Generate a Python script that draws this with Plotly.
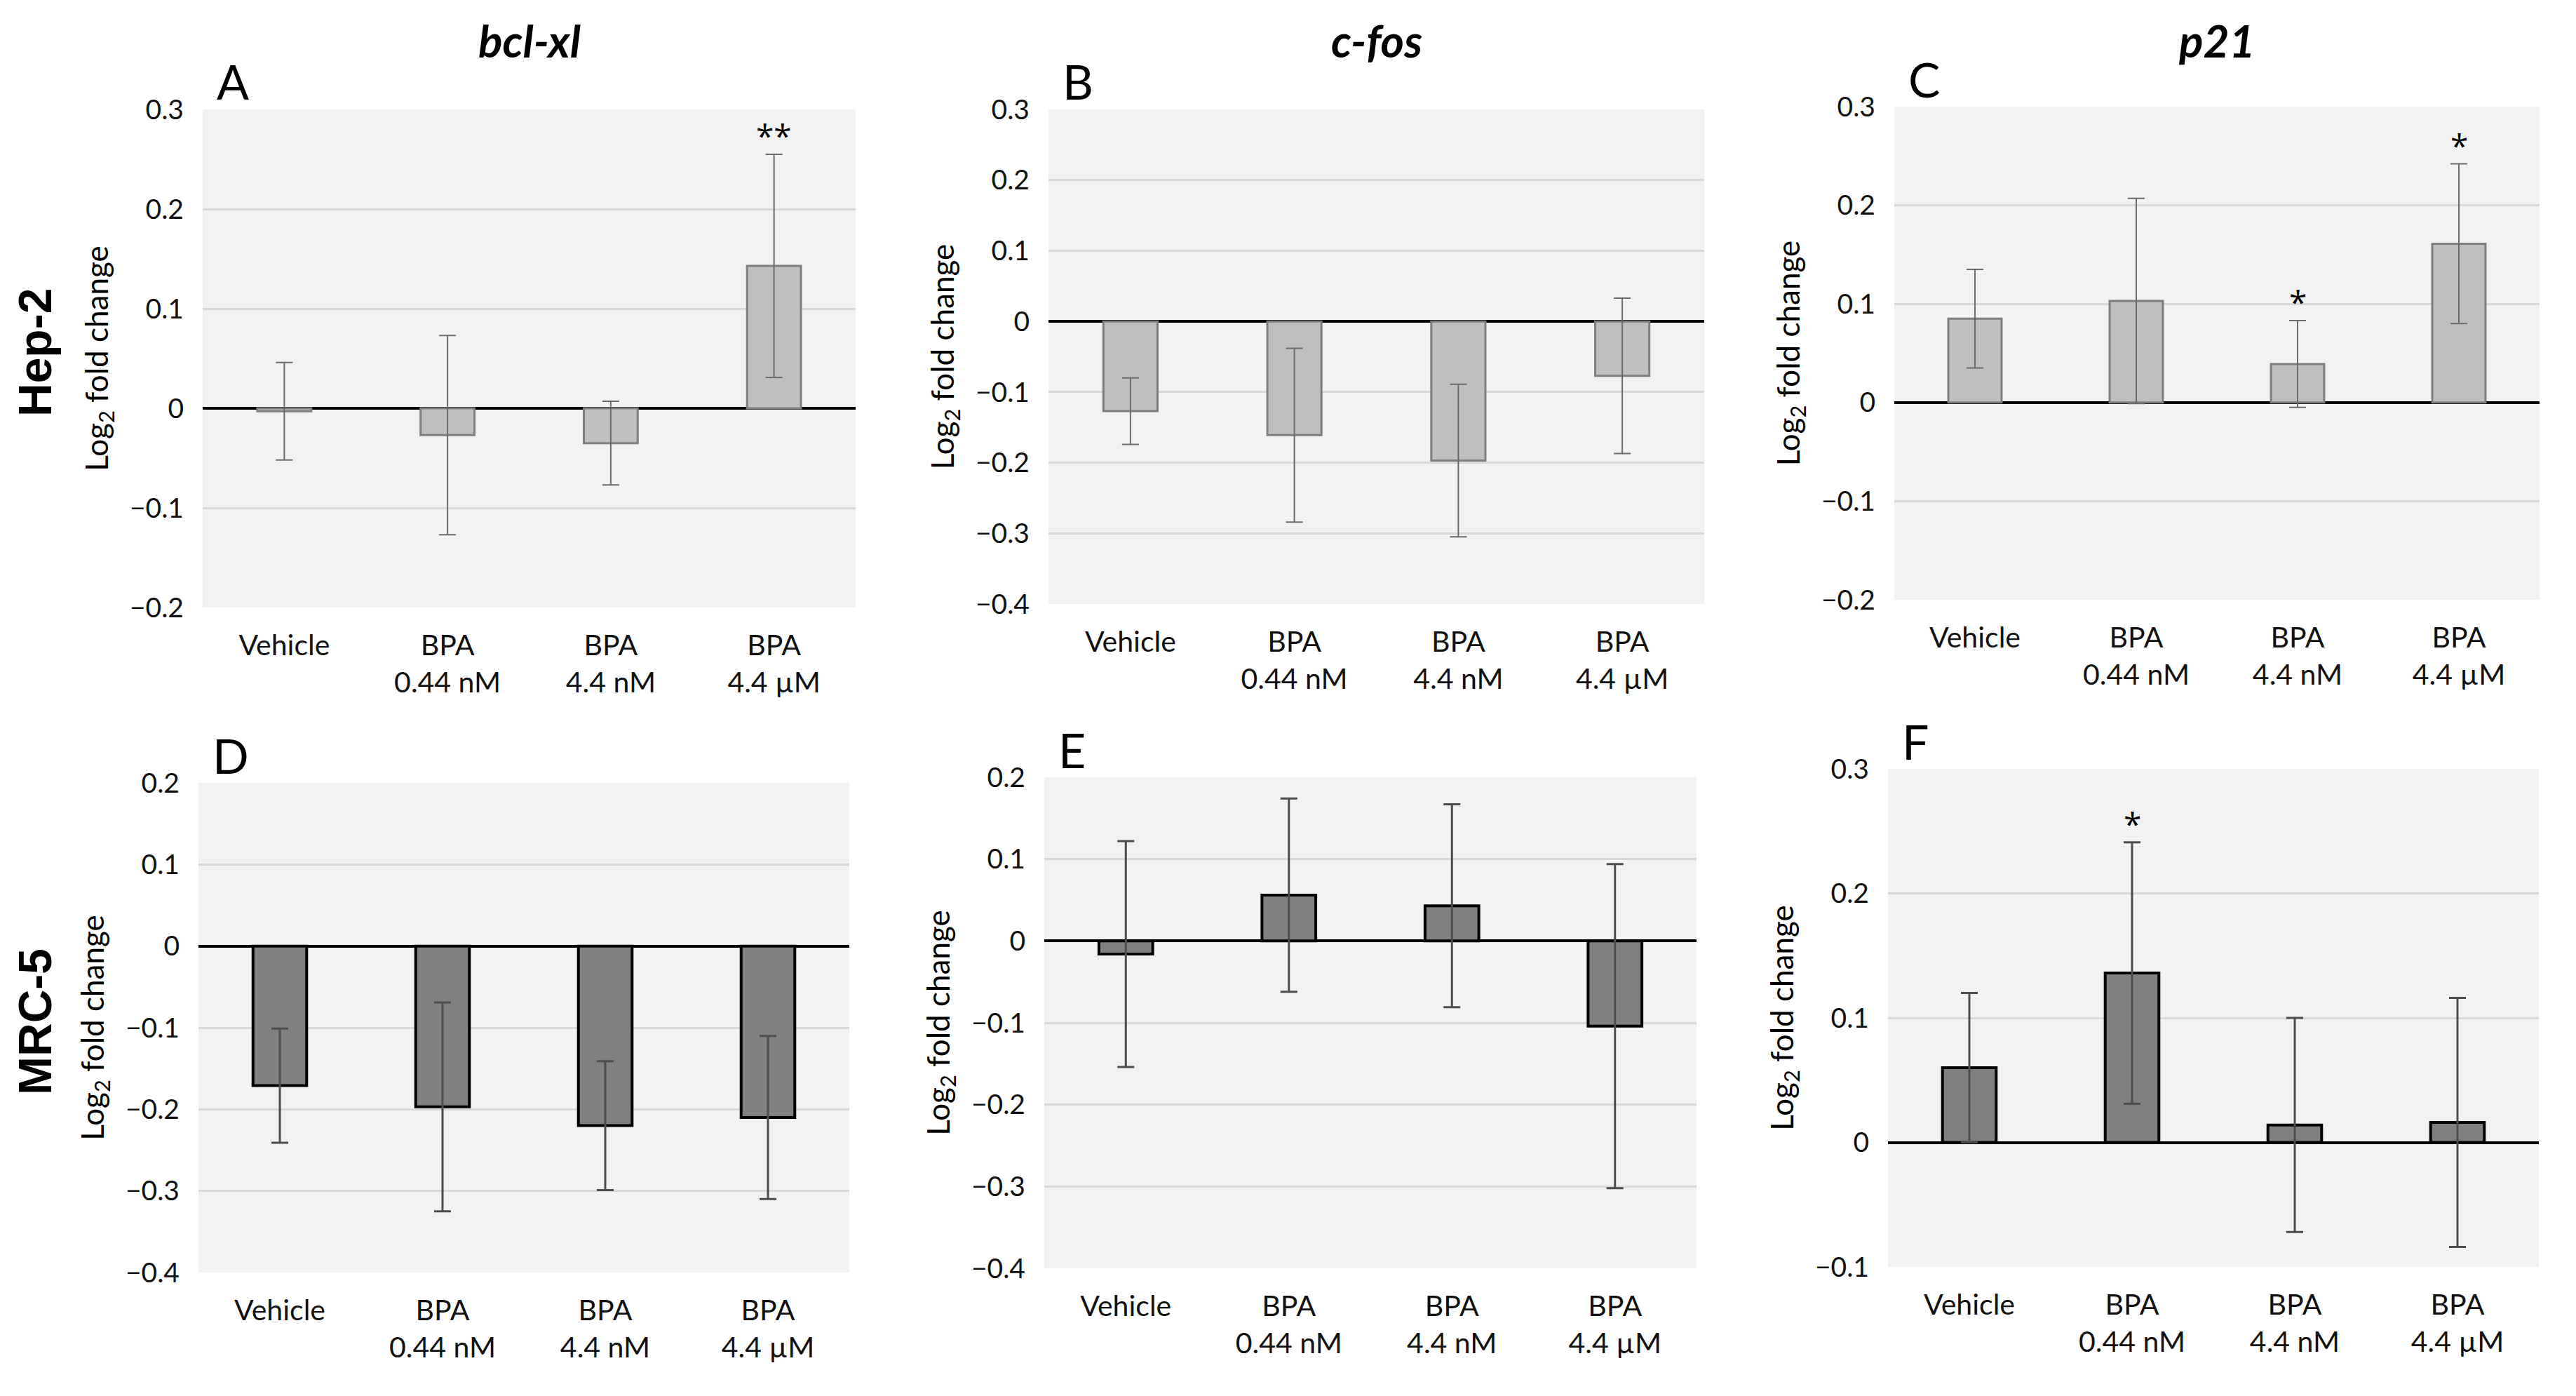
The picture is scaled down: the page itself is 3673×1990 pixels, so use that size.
import plotly.graph_objects as go

# ---------------- data ----------------
categories = ["Vehicle", "BPA<br>0.44 nM", "BPA<br>4.4 nM", "BPA<br>4.4 µM"]

hep2_bclxl = [-0.003, -0.027, -0.035, 0.143]
hep2_bclxl_err = [0.049, 0.100, 0.042, 0.112]
hep2_bclxl_sig = ["", "", "", "**"]

hep2_cfos = [-0.127, -0.161, -0.197, -0.077]
hep2_cfos_err = [0.047, 0.123, 0.108, 0.110]
hep2_cfos_sig = ["", "", "", ""]

hep2_p21 = [0.085, 0.103, 0.039, 0.161]
hep2_p21_err = [0.050, 0.104, 0.044, 0.081]
hep2_p21_sig = ["", "", "*", "*"]

mrc5_bclxl = [-0.171, -0.197, -0.220, -0.210]
mrc5_bclxl_err = [0.070, 0.128, 0.079, 0.100]
mrc5_bclxl_sig = ["", "", "", ""]

mrc5_cfos = [-0.016, 0.056, 0.043, -0.104]
mrc5_cfos_err = [0.138, 0.118, 0.124, 0.198]
mrc5_cfos_sig = ["", "", "", ""]

mrc5_p21 = [0.060, 0.136, 0.014, 0.016]
mrc5_p21_err = [0.060, 0.105, 0.086, 0.100]
mrc5_p21_sig = ["", "*", "", ""]

gene_titles = ["bcl-xl", "c-fos", "p21"]
row_labels = ["Hep-2", "MRC-5"]
panel_letters = ["A", "B", "C", "D", "E", "F"]
y_ranges = [[-0.2, 0.3], [-0.4, 0.3], [-0.2, 0.3],
            [-0.4, 0.2], [-0.4, 0.2], [-0.1, 0.3]]
y_title = "Log<sub>2</sub> fold change"

# ---------------- layout geometry ----------------
W, H = 3673, 1990
# pixel boxes of the six plot areas (left, right, top, bottom)
boxes = [
    (289, 1220, 156, 866),
    (1495, 2430, 156, 861),
    (2701, 3621, 152, 855),
    (283, 1211, 1116, 1814),
    (1489, 2419, 1108, 1808),
    (2692, 3620, 1096, 1806),
]

panels = [
    (hep2_bclxl, hep2_bclxl_err, hep2_bclxl_sig),
    (hep2_cfos, hep2_cfos_err, hep2_cfos_sig),
    (hep2_p21, hep2_p21_err, hep2_p21_sig),
    (mrc5_bclxl, mrc5_bclxl_err, mrc5_bclxl_sig),
    (mrc5_cfos, mrc5_cfos_err, mrc5_cfos_sig),
    (mrc5_p21, mrc5_p21_err, mrc5_p21_sig),
]

FONT = "Lato, 'Open Sans', sans-serif"
fig = go.Figure()
annotations = []

for i, (vals, errs, sigs) in enumerate(panels):
    top_row = i < 3
    xa = "x" if i == 0 else f"x{i+1}"
    ya = "y" if i == 0 else f"y{i+1}"
    fill = "#bfbfbf" if top_row else "#808080"
    edge = "#7f7f7f" if top_row else "#000000"
    ecol = "#6b6b6b" if top_row else "#4d4d4d"
    fig.add_trace(go.Bar(
        x=categories, y=vals, xaxis=xa, yaxis=ya, width=0.33,
        marker=dict(color=fill, line=dict(color=edge, width=3 if top_row else 4)),
        error_y=dict(type="data", array=errs, visible=True, color=ecol,
                     thickness=2 if top_row else 3, width=12),
        showlegend=False, hoverinfo="skip",
    ))
    l, r, t, b = boxes[i]
    lay_x = dict(domain=[l / W, r / W], anchor=ya, showgrid=False, zeroline=False,
                 showline=False, ticks="", ticklabelstandoff=26,
                 tickfont=dict(family=FONT, size=41, color="#111111"),
                 automargin=False, fixedrange=True)
    lay_y = dict(domain=[1 - b / H, 1 - t / H], anchor=xa, range=y_ranges[i],
                 dtick=0.1, tick0=0, showgrid=True, gridcolor="#d9d9d9", gridwidth=3,
                 zeroline=True, zerolinecolor="#000000", zerolinewidth=4,
                 showline=False, ticks="", ticklabelstandoff=26,
                 tickfont=dict(family=FONT, size=39, color="#111111"),
                 title=dict(text=y_title, font=dict(family=FONT, size=44, color="#000000"),
                            standoff=16),
                 automargin=False, fixedrange=True)
    key = "" if i == 0 else str(i + 1)
    fig.update_layout(**{f"xaxis{key}": lay_x, f"yaxis{key}": lay_y})

    # significance stars
    for c, v, e, s in zip(categories, vals, errs, sigs):
        if s:
            annotations.append(dict(x=c, y=v + e, xref=xa, yref=ya, text=s,
                                    showarrow=False, yanchor="bottom", yshift=-6,
                                    font=dict(family="'Open Sans', sans-serif", size=46,
                                              color="#000000")))

    # panel letter
    annotations.append(dict(x=(l + 18) / W, y=1 - (t - 40) / H, xref="paper", yref="paper",
                            text=panel_letters[i], showarrow=False, xanchor="left",
                            yanchor="middle",
                            font=dict(family=FONT, size=68, color="#000000")))

# gene titles
for j, g in enumerate(gene_titles):
    l, r, t, b = boxes[j]
    annotations.append(dict(x=(l + r) / 2 / W, y=1 - 58 / H, xref="paper", yref="paper",
                            text=f"<b><i>{g}</i></b>", showarrow=False,
                            xanchor="center", yanchor="middle",
                            font=dict(family=FONT, size=64, color="#000000")))

# row labels
for k, lab in enumerate(row_labels):
    l, r, t, b = boxes[3 * k]
    annotations.append(dict(x=50 / W, y=1 - ((t + b) / 2 - 8) / H, xref="paper", yref="paper",
                            text=f"<b>{lab}</b>", showarrow=False, textangle=-90,
                            xanchor="center", yanchor="middle",
                            font=dict(family="'Liberation Sans', Arial, sans-serif",
                                      size=66, color="#000000")))

fig.update_layout(
    width=W, height=H, margin=dict(l=0, r=0, t=0, b=0),
    paper_bgcolor="#ffffff", plot_bgcolor="#f2f2f2",
    bargap=0.67, annotations=annotations, showlegend=False,
)

fig.write_html("out.html", config={"displayModeBar": False},
               post_script="document.body.style.margin='0';")
